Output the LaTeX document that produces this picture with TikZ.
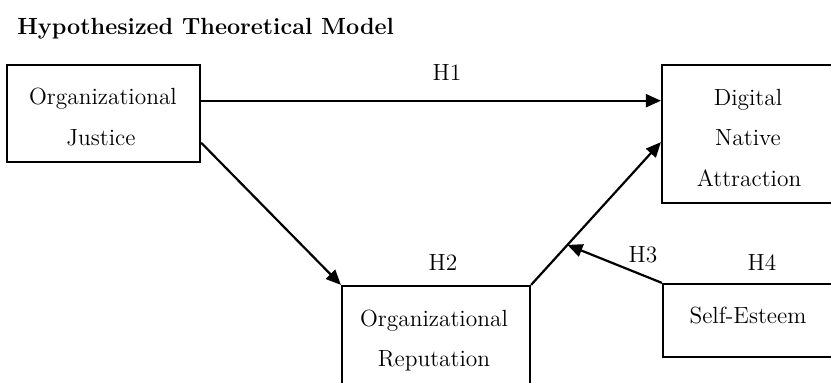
\documentclass[tikz,border=0pt]{standalone}
\usetikzlibrary{arrows.meta,calc}
\begin{document}
\begin{tikzpicture}[x=0.5pt,y=-0.5pt,
  box/.style={draw,line width=1.1pt,inner sep=0pt,rectangle},
  txt/.style={anchor=base,inner sep=0pt,font=\fontsize{11.7}{14}\selectfont},
  conn/.style={line width=1.1pt,-{Triangle[length=7.5pt,width=6.5pt]}},
  plain/.style={line width=1.1pt}]
\useasboundingbox (0,0) rectangle (831,383);
\clip (0,0) rectangle (831,383);
% title
\node[anchor=base west,inner sep=0pt,font=\bfseries\fontsize{11.7}{14}\selectfont] (title) at (17,35) {Hypothesized Theoretical Model};
% boxes
\node[box,minimum width=96.5pt,minimum height=48.5pt] (oj) at (103.5,113.5) {};
\node[box,minimum width=99pt,minimum height=69pt] (dna) at (761,134) {};
\node[box,minimum width=94pt,minimum height=72pt] (or) at (436,358) {};
\node[box,minimum width=98.5pt,minimum height=36.5pt] (se) at (761.5,320.5) {};
% texts
\node[txt] (oj1) at (103,105) {Organizational};
\node[txt] (oj2) at (101,146) {Justice};
\node[txt] (dna1) at (748,106) {Digital};
\node[txt] (dna2) at (748,146) {Native};
\node[txt] (dna3) at (749,187) {Attraction};
\node[txt] (or1) at (434,327) {Organizational};
\node[txt] (or2) at (434,367) {Reputation};
\node[txt] (se1) at (748,324) {Self-Esteem};
% labels
\node[txt] (h1) at (447,81) {H1};
\node[txt] (h2) at (443,271) {H2};
\node[txt] (h3) at (643,263) {H3};
\node[txt] (h4) at (762,271) {H4};
% connectors
\coordinate (h1s) at ($(oj.north east)!0.371!(oj.south east)$);
\coordinate (h1e) at ($(dna.north west)!(h1s)!(dna.south west)$);
\coordinate (ojlow) at ($(oj.north east)!0.794!(oj.south east)$);
\coordinate (dnain) at ($(dna.north west)!0.558!(dna.south west)$);
\coordinate (mid) at ($(or.north east)!0.28!(dnain)$);
\draw[conn] (h1s) -- (h1e);
\draw[conn] (ojlow) -- (or.north west);
\draw[conn] (or.north east) -- (dnain);
\draw[conn] (se.north west) -- (mid);
\end{tikzpicture}
\end{document}
